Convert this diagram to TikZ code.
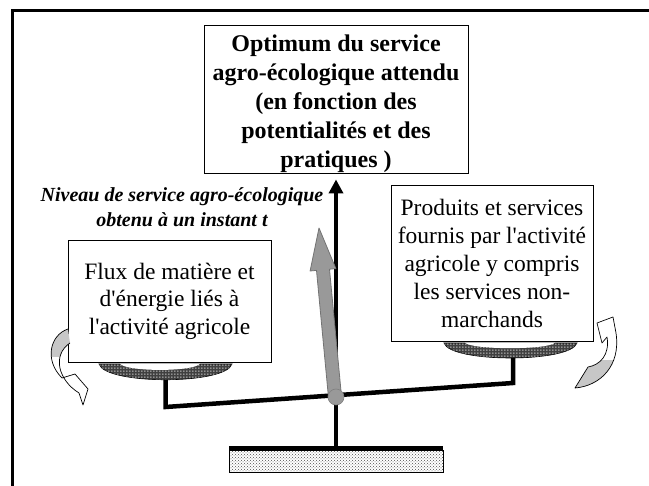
\documentclass[tikz,border=0pt]{standalone}
\usepackage{fontspec}
\setmainfont{Liberation Serif}[Ligatures=TeXOff]
\usetikzlibrary{patterns,arrows.meta}
\pgfdeclarepatternformonly{whitedots}{\pgfpointorigin}{\pgfqpoint{3pt}{3pt}}{\pgfqpoint{3pt}{3pt}}{%
  \pgfpathrectangle{\pgfqpoint{0.6pt}{0.6pt}}{\pgfqpoint{1.1pt}{1.1pt}}%
  \pgfusepath{fill}}
\begin{document}
\begin{tikzpicture}[x=1pt,y=-1pt,
  box/.style={draw, line width=0.9pt, inner sep=0pt, align=center, fill=white},
  beam/.style={line width=4.5pt, line join=miter},
  pan/.style={fill=black!75, draw=black, line width=0.6pt,
    postaction={pattern=whitedots, pattern color=white}},
  curvedarrow/.style={draw=black, line width=0.7pt, line join=round},
  grayarrow/.style={fill=black!40, draw=black!55, line width=0.8pt, line join=round}]
\useasboundingbox (0,0) rectangle (649,486);
% frame
\draw[line width=3pt] (12,486) -- (12,11) -- (649,11);
% top box
\node[box, minimum width=264pt, minimum height=148pt] (top) at (336,99) {};
\node[align=center, inner sep=0pt, font=\fontsize{24}{29}\selectfont\bfseries] (toptext) at (336,104)
  {Optimum du service\\agro-écologique attendu\\(en fonction des\\potentialités et des\\pratiques )};
% italic label
\node[align=center, inner sep=0pt, font=\fontsize{20}{25}\selectfont\bfseries\itshape] (niveau) at (182,207)
  {Niveau de service agro-écologique\\obtenu à un instant t};
% coordinates of the balance
\coordinate (pivot) at (336,397);
\coordinate (grtip) at (319,228);
\coordinate (lstem) at (165.5,380);
\coordinate (lbeam) at (165.5,407);
\coordinate (rbeam) at (513,383);
\coordinate (rstem) at (513,358);
\coordinate (foot) at (336,448);
% black arrow
\draw[line width=3.5pt, -{Triangle[length=14pt,width=14pt]}, shorten >=6pt] (pivot) -- (top.south -| pivot);
% side boxes
\node[box, minimum width=203pt, minimum height=122pt,
      font=\fontsize{23.5}{27.5}\selectfont] (flux) at (169.5,301)
  {Flux de matière et\\d'énergie liés à\\l'activité agricole};
\node[box, minimum width=202pt, minimum height=156pt,
      font=\fontsize{23.5}{28}\selectfont] (prod) at (492,263)
  {Produits et services\\fournis par l'activité\\agricole y compris\\les services non-\\marchands};
% pans
\draw[pan] (99,364) .. controls (105,385) and (226,385) .. (232,364) -- cycle;
\fill[white] (120,363.6) .. controls (126,372) and (194,372) .. (200,363.6) -- cycle;
\draw[pan] (444,343) .. controls (450,363) and (571,363) .. (577,343) -- cycle;
\fill[white] (465,342.6) .. controls (471,350) and (549,350) .. (555,342.6) -- cycle;
% beam and stems
\draw[beam] (lstem) -- (lbeam) -- (rbeam) -- (rstem);
\draw[line width=4pt] (pivot) -- (foot);
% base
\draw[pattern=crosshatch dots, pattern color=black!70, line width=0.6pt] (229,450) rectangle (443,472);
\draw[line width=4pt] (229,448) -- (443,448);
% left curved arrow
\begin{scope}
\clip (30,320) rectangle (100,357);
\fill[black!22] (68,329) .. controls (50,335) and (44,360) .. (62,378) -- (75,374) -- (88,389) -- (83,405) -- (79,393)
  .. controls (58,380) and (52,355) .. (70,343) -- cycle;
\end{scope}
\draw[curvedarrow] (68,329) .. controls (50,335) and (44,360) .. (62,378) -- (75,374) -- (88,389) -- (83,405) -- (79,393)
  .. controls (58,380) and (52,355) .. (70,343);
% right curved arrow
\begin{scope}
\clip (560,361) rectangle (640,400);
\fill[black!22] (575,388) .. controls (600,386) and (621,366) .. (616,333) -- (613,317) -- (597,323) -- (602,343) -- (607,337)
  .. controls (610,355) and (600,365) .. (588,367) -- cycle;
\end{scope}
\draw[curvedarrow] (575,388) .. controls (600,386) and (621,366) .. (616,333) -- (613,317) -- (597,323) -- (602,343) -- (607,337)
  .. controls (610,355) and (600,365) .. (588,367) -- cycle;
% gray arrow
\draw[grayarrow] (328.5,397.6) -- (316.5,270.4) -- (310.1,271.0) -- (grtip) -- (335.9,268.6) -- (329.5,269.2) -- (341.5,396.4) -- cycle;
\draw[fill=black!40, draw=black!50, line width=0.6pt] (pivot) circle (8);
\end{tikzpicture}
\end{document}
